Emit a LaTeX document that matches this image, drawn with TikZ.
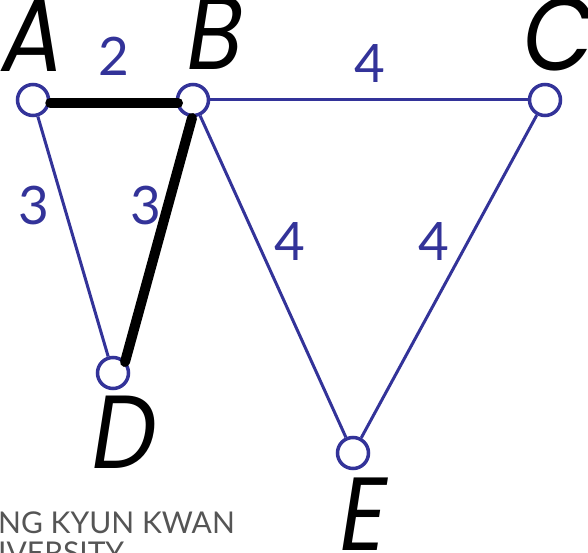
\documentclass[tikz,border=0pt]{standalone}
\usepackage{fontspec}
\setmainfont{Lato}
\newfontfamily\labfont{Poppins}
\usetikzlibrary{backgrounds}
\definecolor{eblue}{HTML}{333399}
\definecolor{wmgray}{HTML}{555555}
\begin{document}
\begin{tikzpicture}[x=1pt,y=-1pt,
 vtx/.style={circle, draw=eblue, line width=3.5pt, fill=white, minimum size=31pt, inner sep=0pt},
 vlab/.style={font=\labfont\itshape\fontsize{104}{104}\selectfont, inner sep=0pt, anchor=base, xscale=0.88},
 wlab/.style={text=eblue, font=\fontsize{53}{53}\selectfont, inner sep=0pt, anchor=base},
 bedge/.style={draw=eblue, line width=3pt},
 hedge/.style={draw=black, line width=10pt, line cap=round},
 wm/.style={text=wmgray, font=\fontsize{30}{30}\selectfont, inner sep=0pt, anchor=base west}]
\useasboundingbox (0,0) rectangle (588,553);
\clip (0,0) rectangle (588,553);
% vertices
\node[vtx] (A) at (33,100) {};
\node[vtx] (B) at (193,100) {};
\node[vtx] (C) at (545,100) {};
\node[vtx] (D) at (113,373) {};
\node[vtx] (E) at (353,453) {};
% blue edges behind
\begin{scope}[on background layer]
 \fill[white] (0,0) rectangle (588,553);
 \draw[bedge] (A) -- (B);
 \draw[bedge] (B) -- (C);
 \draw[bedge] (A) -- (D);
 \draw[bedge] (B) -- (E);
 \draw[bedge] (C) -- (E);
\end{scope}
% highlighted edges
\draw[hedge] ([shift={(0,3)}]A.east) -- ([shift={(-15,3)}]B.center);
\draw[hedge] ([shift={(-1,18)}]B.center) -- ([shift={(12,-11)}]D.center);
% vertex labels
\node[vlab] (lA) at (33,72) {A};
\node[vlab] (lB) at (216,70) {B};
\node[vlab] (lC) at (559,71) {C};
\node[vlab] (lD) at (125,468) {D};
\node[vlab] (lE) at (364,550) {E};
% weights
\node[wlab] (wAB) at (114,76) {2};
\node[wlab] (wAD) at (34,225) {3};
\node[wlab] (wBD) at (146,225) {3};
\node[wlab] (wBC) at (370,83) {4};
\node[wlab] (wBE) at (290,260) {4};
\node[wlab] (wCE) at (434,260) {4};
% watermark
\node[wm] (wm1) at (-2,533) {NG KYUN KWAN};
\node[wm] (wm2) at (-2,563) {IVERSITY};
\end{tikzpicture}
\end{document}
